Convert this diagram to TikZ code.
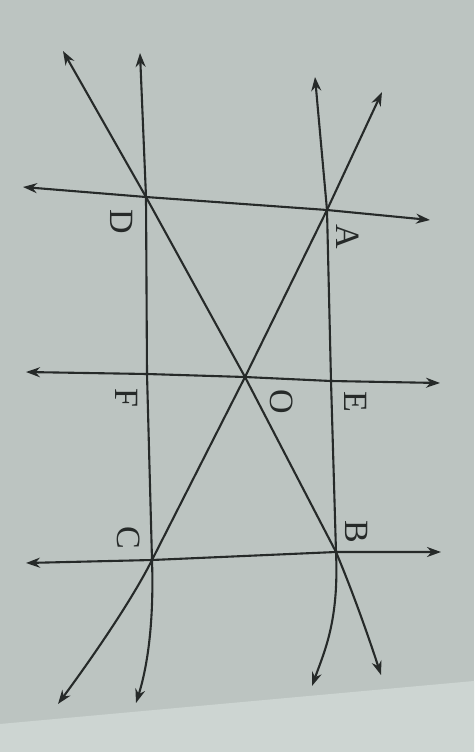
\documentclass[tikz,border=0pt]{standalone}
\usepackage{fontspec}
\setmainfont{Liberation Serif}
\usetikzlibrary{arrows.meta}
\definecolor{paper}{HTML}{BCC4C1}
\definecolor{paperlow}{HTML}{CDD5D2}
\definecolor{ink}{HTML}{262A29}
\tikzset{
  ln/.style={draw=ink,line width=2.1pt,{Stealth[length=14pt,width=10pt]}-{Stealth[length=14pt,width=10pt]}},
  lbl/.style={text=ink,font=\fontsize{34}{34}\selectfont,rotate=-90,inner sep=0pt}
}
\begin{document}
\begin{tikzpicture}[x=1pt,y=-1pt]
\fill[paper] (0,0) rectangle (474,752);
\fill[paperlow] (0,724) -- (474,681) -- (474,752) -- (0,752) -- cycle;
\useasboundingbox (0,0) rectangle (474,752);
% points
\coordinate (A) at (327,210);
\coordinate (B) at (336,552);
\coordinate (C) at (152,560);
\coordinate (D) at (146,197);
\coordinate (O) at (245,377);
\coordinate (E) at (331,381);
\coordinate (F) at (147,374);
% line ends
\coordinate (ABt) at (315,77);
\coordinate (ABb) at (312,686);
\coordinate (DCt) at (140,53);
\coordinate (DCb) at (136,703);
\coordinate (DAl) at (23,187);
\coordinate (DAr) at (430,220);
\coordinate (FEl) at (26,372);
\coordinate (FEr) at (440,383);
\coordinate (CBl) at (26,563);
\coordinate (CBr) at (441,552);
\coordinate (DBt) at (63,51);
\coordinate (DBb) at (381,675);
\coordinate (ACt) at (382,92);
\coordinate (ACb) at (58,704);
% lines
\draw[ln] (ABt) -- (A) -- (E) -- (B) .. controls (339,620) and (325,650) .. (ABb);
\draw[ln] (DCt) -- (D) -- (F) -- (C) .. controls (154,620) and (148,665) .. (DCb);
\draw[ln] (DAl) -- (D) -- (A) -- (DAr);
\draw[ln] (FEl) -- (F) -- (O) -- (E) -- (FEr);
\draw[ln] (CBl) -- (C) -- (B) -- (CBr);
\draw[ln] (DBt) -- (D) -- (O) -- (B) .. controls (352,590) and (368,635) .. (DBb);
\draw[ln] (ACt) -- (A) -- (O) -- (C) .. controls (132,600) and (92,658) .. (ACb);
% labels
\node[lbl] (lA) at (348,237) {A};
\node[lbl] (lE) at (356,402) {E};
\node[lbl] (lB) at (357,532) {B};
\node[lbl] (lO) at (282,402) {O};
\node[lbl] (lF) at (127,398) {F};
\node[lbl] (lC) at (129,538) {C};
\node[lbl] (lD) at (122,222) {D};
\end{tikzpicture}
\end{document}
